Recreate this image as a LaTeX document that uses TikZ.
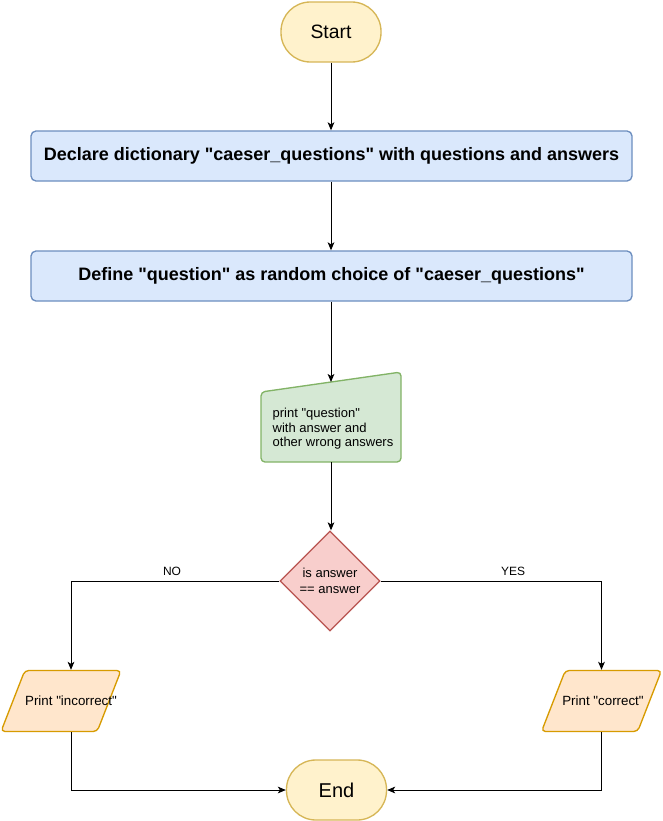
\documentclass[tikz,border=0pt]{standalone}
\usepackage{fontspec}
\setmainfont{Liberation Sans}[Ligatures=TeXOff]
\usetikzlibrary{shapes.geometric,arrows.meta}
\definecolor{termfill}{HTML}{FFF2CC}
\definecolor{termline}{HTML}{D6B656}
\definecolor{procfill}{HTML}{DAE8FC}
\definecolor{procline}{HTML}{6C8EBF}
\definecolor{inpfill}{HTML}{D5E8D4}
\definecolor{inpline}{HTML}{82B366}
\definecolor{decfill}{HTML}{F8CECC}
\definecolor{decline}{HTML}{B85450}
\definecolor{iofill}{HTML}{FFE6CC}
\definecolor{ioline}{HTML}{D79B00}

\begin{document}
\begin{tikzpicture}[x=0.75pt,y=-0.75pt,line width=0.75pt,
  term/.style={draw=termline,line width=1pt,fill=termfill,rounded corners=22pt,minimum width=75pt,minimum height=45pt,font=\fontsize{14.5}{17}\selectfont},
  proc/.style={draw=procline,line width=1pt,fill=procfill,rounded corners=3.75pt,minimum width=450.75pt,minimum height=37.5pt,font=\fontsize{13.5}{16}\selectfont\bfseries},
  inp/.style={draw=inpline,line width=1pt,fill=inpfill,rounded corners=3pt},
  inptext/.style={align=left,inner sep=0pt,font=\fontsize{9.75}{10.9}\selectfont},
  dec/.style={diamond,draw=decline,line width=1pt,fill=decfill,minimum width=75pt,minimum height=75pt,inner sep=0pt,align=center,font=\fontsize{9.75}{11.5}\selectfont},
  iobox/.style={trapezium,trapezium left angle=71.8,trapezium right angle=108.2,trapezium stretches=true,draw=ioline,line width=1pt,fill=iofill,rounded corners=3pt,minimum width=90pt,minimum height=45.75pt,inner sep=2pt},
  iotext/.style={inner sep=0pt,font=\fontsize{10}{12}\selectfont},
  lbl/.style={font=\fontsize{9}{11}\selectfont},
  arr/.style={-{Stealth[length=6pt,width=5pt,inset=1.5pt]}}]
\useasboundingbox (0,0) rectangle (663,821);

\node[term] (start) at (331,32) {Start};
\node[proc] (decl) at (331.5,156) {Declare dictionary "caeser\_questions" with questions and answers};
\node[proc] (defq) at (331.5,276) {Define "question" as random choice of "caeser\_questions"};

% manual input
\draw[inp] (261,462) -- (261,392) -- (401,372) -- (401,462) -- cycle;
\node[inptext] (prt) at (333,429) {print "question"\\with answer and\\other wrong answers};
\coordinate (prttop) at (331,382);
\coordinate (prtbot) at (331,462);

\node[dec] (cond) at (330,581) {is answer\\== answer};

\node[iobox] (incbox) at (61,701) {};
\node[iotext] (inctxt) at (71,701) {Print "incorrect"};
\node[iobox] (corbox) at (601.5,701) {};
\node[iotext] (cortxt) at (603,701) {Print "correct"};

\node[term,font=\fontsize{15}{18}\selectfont] (finish) at (336.5,790) {End};

\draw[arr] (start) -- (start |- decl.north);
\draw[arr] (decl.south -| start) -- (start |- defq.north);
\draw[arr] (defq.south -| start) -- (prttop);
\draw[arr] (prtbot) -- (prtbot |- cond.north);
\draw[arr] (cond.west) -| (inctxt |- incbox.north);
\draw[arr] (cond.east) -| (corbox.north);
\node[lbl] (nolbl) at (172,571) {NO};
\node[lbl] (yeslbl) at (513,571) {YES};
\draw[arr] (inctxt |- incbox.south) |- (finish.west);
\draw[arr] (corbox.south) |- (finish.east);
\end{tikzpicture}
\end{document}
